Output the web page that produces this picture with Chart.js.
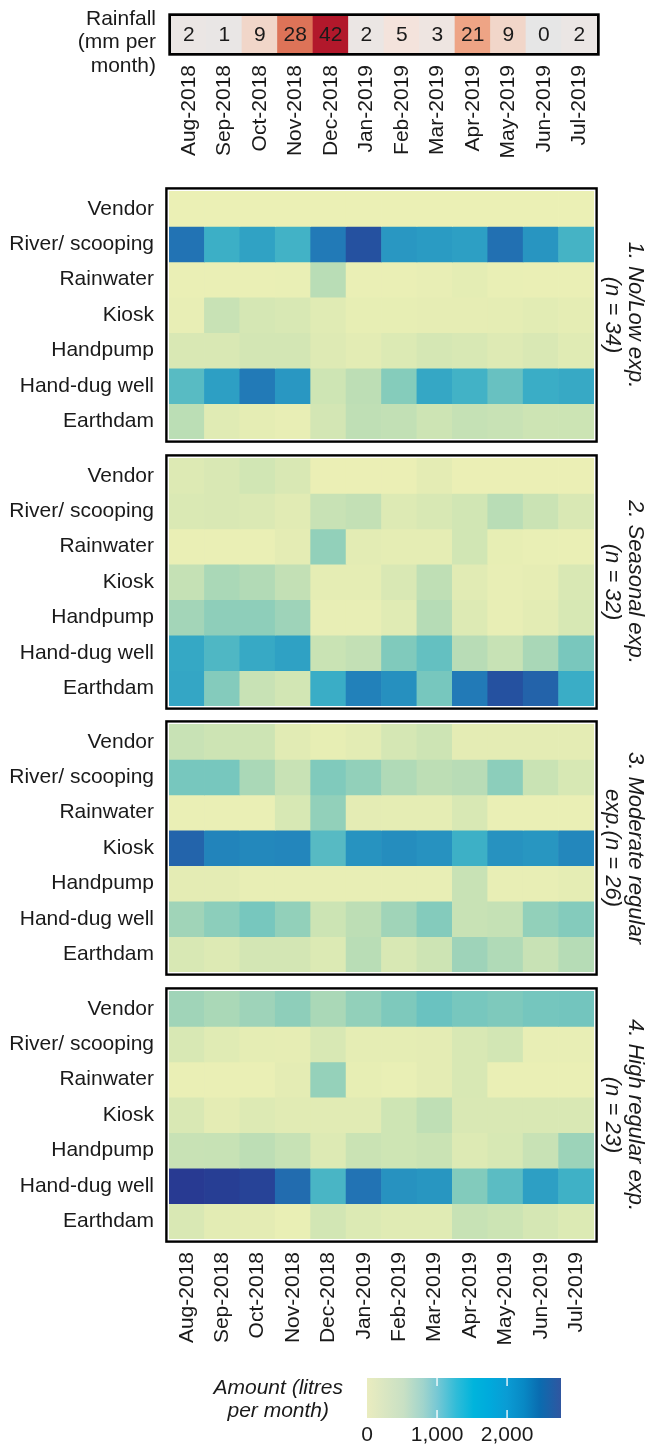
<!DOCTYPE html>
<html>
<head>
<meta charset="utf-8">
<script src="https://cdn.jsdelivr.net/npm/chart.js@4.4.1/dist/chart.umd.min.js"></script>
<style>
  body { margin: 0; background: #fff; }
  #page { position: relative; width: 651px; height: 1450px; }
  .box { position: absolute; left: 0; width: 651px; }
</style>
</head>
<body>
<div id="page">
  <div class="box" style="top:0;height:170px"><canvas id="rain"></canvas></div>
  <div class="box" style="top:185px;height:260px"><canvas id="p1"></canvas></div>
  <div class="box" style="top:452px;height:260px"><canvas id="p2"></canvas></div>
  <div class="box" style="top:718px;height:260px"><canvas id="p3"></canvas></div>
  <div class="box" style="top:985px;height:364px"><canvas id="p4"></canvas></div>
  <div class="box" style="top:1360px;height:90px"><canvas id="legend"></canvas></div>
</div>
<script>
const months = ["Aug-2018", "Sep-2018", "Oct-2018", "Nov-2018", "Dec-2018", "Jan-2019",
  "Feb-2019", "Mar-2019", "Apr-2019", "May-2019", "Jun-2019", "Jul-2019"];
const sources = ["Vendor", "River/ scooping", "Rainwater", "Kiosk", "Handpump", "Hand-dug well", "Earthdam"];

// rainfall, mm per month
const rainfall = [2, 1, 9, 28, 42, 2, 5, 3, 21, 9, 0, 2];

// litres per month, one row per source (same order as sources)
const noLowExp = [
  [10, 10, 10, 10, 10, 10, 10, 10, 10, 10, 10, 10],
  [2050, 1220, 1400, 1170, 1950, 2450, 1550, 1500, 1450, 2100, 1580, 1150],
  [30, 30, 30, 50, 480, 40, 40, 60, 130, 50, 40, 40],
  [60, 380, 270, 250, 180, 80, 90, 100, 100, 110, 160, 120],
  [240, 240, 290, 290, 190, 150, 210, 270, 250, 190, 240, 180],
  [1020, 1450, 1950, 1550, 330, 460, 770, 1330, 1170, 930, 1250, 1300],
  [470, 180, 110, 70, 290, 450, 430, 340, 400, 380, 340, 350]
];
const seasonalExp = [
  [200, 240, 310, 240, 20, 20, 20, 140, 20, 20, 20, 20],
  [230, 240, 220, 170, 380, 420, 200, 250, 310, 480, 360, 240],
  [30, 30, 30, 140, 700, 150, 110, 120, 310, 80, 50, 30],
  [400, 560, 520, 420, 120, 120, 240, 450, 170, 60, 100, 240],
  [600, 720, 720, 630, 60, 60, 180, 500, 200, 60, 150, 260],
  [1320, 1080, 1300, 1420, 370, 420, 800, 950, 490, 390, 570, 840],
  [1340, 780, 380, 300, 1250, 1850, 1650, 850, 1950, 2450, 2250, 1250]
];
const moderateExp = [
  [380, 340, 340, 170, 80, 150, 270, 340, 140, 140, 140, 140],
  [850, 850, 560, 380, 800, 700, 530, 460, 490, 730, 370, 260],
  [30, 30, 30, 260, 700, 140, 120, 120, 250, 30, 30, 30],
  [2230, 1800, 1750, 1780, 1030, 1600, 1680, 1620, 1200, 1620, 1560, 1760],
  [140, 140, 60, 60, 60, 60, 60, 60, 380, 60, 70, 110],
  [620, 730, 850, 700, 350, 460, 620, 780, 380, 400, 700, 780],
  [250, 200, 290, 290, 210, 480, 250, 340, 630, 530, 380, 500]
];
const highExp = [
  [620, 560, 630, 720, 560, 700, 810, 920, 850, 810, 860, 870],
  [250, 180, 120, 100, 250, 120, 120, 140, 250, 300, 60, 60],
  [30, 30, 30, 140, 680, 80, 50, 140, 250, 40, 40, 40],
  [240, 140, 200, 170, 170, 170, 330, 450, 240, 240, 240, 240],
  [380, 390, 460, 390, 200, 360, 330, 360, 200, 260, 380, 640],
  [2770, 2720, 2650, 2150, 1120, 2050, 1620, 1560, 790, 1000, 1450, 1190],
  [240, 150, 140, 50, 300, 210, 180, 180, 390, 350, 270, 210]
];

const panelTitles = [
  ["1. No/Low exp.", "(n = 34)"],
  ["2. Seasonal exp.", "(n = 32)"],
  ["3. Moderate regular", "exp.(n = 26)"],
  ["4. High regular exp.", "(n = 23)"]
];
const legendTicks = [0, 1000, 2000];
const legendMax = 2770;

const amountStops = [[0, "#ecf0b5"], [150, "#e3ecb4"], [300, "#d2e6b4"], [450, "#bfdfb5"],
  [600, "#a3d5b8"], [800, "#80cabc"], [1000, "#5bbcc3"], [1200, "#3db0c6"], [1500, "#2a9bc3"],
  [1800, "#2284bb"], [2100, "#2270b2"], [2400, "#2455a2"], [2770, "#283a92"]];
const rainStops = [[0, "#e6e6e6"], [2, "#ebe6e4"], [5, "#f4e3dc"], [9, "#f1d6c9"],
  [21, "#eea485"], [28, "#dd7358"], [42, "#b2182b"]];
const barStops = [[0, "#eaecbf"], [0.19, "#c8e0c4"], [0.29, "#a0d4cc"], [0.36, "#78c8d4"],
  [0.46, "#30bcd8"], [0.55, "#00b4dc"], [0.63, "#00aadc"], [0.72, "#0a9cd4"],
  [0.81, "#0888c4"], [0.89, "#0a6cb0"], [1, "#3056a0"]];

const FONT = "'Liberation Sans', Arial, Helvetica, sans-serif";
Chart.defaults.font.family = FONT;
Chart.defaults.color = "#1a1a1a";

function hexToRgb(h) {
  return [parseInt(h.slice(1, 3), 16), parseInt(h.slice(3, 5), 16), parseInt(h.slice(5, 7), 16)];
}

function scaleColor(stops, v) {
  if (v <= stops[0][0]) return stops[0][1];
  for (let i = 1; i < stops.length; i++) {
    if (v <= stops[i][0]) {
      const t = (v - stops[i - 1][0]) / (stops[i][0] - stops[i - 1][0]);
      const a = hexToRgb(stops[i - 1][1]);
      const b = hexToRgb(stops[i][1]);
      const c = a.map((x, k) => Math.round(x + (b[k] - x) * t));
      return "rgb(" + c.join(",") + ")";
    }
  }
  return stops[stops.length - 1][1];
}

// fixed axis sizes, and no extra room for labels hanging past the ends
function fixY(width) {
  return s => { s.width = width; s.paddingTop = 0; s.paddingBottom = 0; };
}
function fixX(height) {
  return s => { s.height = height; s.paddingLeft = 0; s.paddingRight = 0; };
}

const framePlugin = {
  id: "frame",
  afterDraw(chart, args, opts) {
    const { ctx, chartArea: a } = chart;
    const h = opts.width / 2 + opts.gap;
    ctx.save();
    ctx.strokeStyle = "#000";
    ctx.lineWidth = opts.width;
    ctx.strokeRect(a.left - h, a.top - h, a.right - a.left + 2 * h, a.bottom - a.top + 2 * h);
    ctx.restore();
  }
};

const cellTextPlugin = {
  id: "cellText",
  afterDatasetsDraw(chart) {
    const { ctx } = chart;
    const meta = chart.getDatasetMeta(0);
    ctx.save();
    ctx.font = "21px " + FONT;
    ctx.fillStyle = "#1a1a1a";
    ctx.textAlign = "center";
    ctx.textBaseline = "middle";
    meta.data.forEach((bar, i) => {
      ctx.fillText(String(rainfall[i]), bar.x, (bar.y + bar.base) / 2 + 1);
    });
    ctx.restore();
  }
};

const monthAxis = (show, pad, height) => ({
  type: "category",
  display: show,
  grid: { display: false, drawTicks: false },
  border: { display: false },
  ticks: { minRotation: 90, maxRotation: 90, autoSkip: false, padding: pad, font: { size: 21 } },
  afterFit: fixX(show ? height : 0)
});

// rainfall strip
new Chart(document.getElementById("rain"), {
  type: "bar",
  data: {
    labels: months,
    datasets: [{
      data: rainfall.map(() => [0, 1]),
      backgroundColor: rainfall.map(v => scaleColor(rainStops, v)),
      barPercentage: 1,
      categoryPercentage: 1,
      borderWidth: 0
    }]
  },
  options: {
    responsive: true,
    maintainAspectRatio: false,
    animation: false,
    layout: { padding: { top: 16, right: 54, left: 0, bottom: 0 } },
    plugins: { legend: { display: false }, tooltip: { enabled: false }, frame: { width: 2.7, gap: 0 } },
    scales: {
      x: monthAxis(true, 12, 117),
      y: {
        min: 0, max: 1,
        grid: { display: false, drawTicks: false },
        border: { display: false },
        afterBuildTicks: a => { a.ticks = [{ value: 0.5 }]; },
        ticks: {
          callback: () => ["Rainfall", "(mm per", "month)"],
          labelOffset: 8,
          padding: 15,
          font: { size: 21, lineHeight: 1.12 }
        },
        afterFit: fixY(171)
      }
    }
  },
  plugins: [framePlugin, cellTextPlugin]
});

function heatPanel(id, rows, title, showMonths) {
  const datasets = rows.map((vals, r) => ({
    data: vals.map(() => [r, r + 1]),
    backgroundColor: vals.map(v => scaleColor(amountStops, v)),
    grouped: false,
    barPercentage: 1,
    categoryPercentage: 1,
    borderWidth: 0
  }));
  new Chart(document.getElementById(id), {
    type: "bar",
    data: { labels: months, datasets },
    options: {
      responsive: true,
      maintainAspectRatio: false,
      animation: false,
      layout: { padding: { top: 6, bottom: showMonths ? 0 : 6, left: 0, right: 0 } },
      plugins: { legend: { display: false }, tooltip: { enabled: false }, frame: { width: 2.4, gap: 1.4 } },
      scales: {
        x: monthAxis(showMonths, 13, 110),
        y: {
          min: 0, max: sources.length,
          reverse: true,
          grid: { display: false, drawTicks: false },
          border: { display: false },
          afterBuildTicks: a => { a.ticks = sources.map((s, i) => ({ value: i + 0.5 })); },
          ticks: {
            autoSkip: false,
            callback: v => sources[Math.floor(v)],
            padding: 15,
            font: { size: 21 }
          },
          afterFit: fixY(169)
        },
        y2: {
          position: "right",
          display: true,
          grid: { display: false, drawTicks: false },
          border: { display: false },
          ticks: { display: false },
          title: {
            display: true,
            text: title,
            font: { size: 22, style: "italic", lineHeight: 1.05 },
            padding: { top: 4, bottom: 0 }
          },
          afterFit: fixY(57)
        }
      }
    },
    plugins: [framePlugin]
  });
}

heatPanel("p1", noLowExp, panelTitles[0], false);
heatPanel("p2", seasonalExp, panelTitles[1], false);
heatPanel("p3", moderateExp, panelTitles[2], false);
heatPanel("p4", highExp, panelTitles[3], true);

// colour legend
const tickMarks = {
  id: "tickMarks",
  afterDatasetsDraw(chart) {
    const { ctx, chartArea: a } = chart;
    const xs = chart.scales.x;
    ctx.save();
    ctx.strokeStyle = "#fff";
    ctx.lineWidth = 1.3;
    legendTicks.slice(1).forEach(v => {
      const x = xs.getPixelForValue(v);
      ctx.beginPath();
      ctx.moveTo(x, a.top); ctx.lineTo(x, a.top + 8);
      ctx.moveTo(x, a.bottom - 8); ctx.lineTo(x, a.bottom);
      ctx.stroke();
    });
    ctx.restore();
  }
};

new Chart(document.getElementById("legend"), {
  type: "bar",
  data: {
    labels: [["Amount (litres", "per month)"]],
    datasets: [{
      data: [[0, legendMax]],
      backgroundColor: c => {
        const { ctx, chartArea } = c.chart;
        if (!chartArea) return barStops[0][1];
        const g = ctx.createLinearGradient(chartArea.left, 0, chartArea.right, 0);
        barStops.forEach(([p, col]) => g.addColorStop(p, col));
        return g;
      },
      barPercentage: 1,
      categoryPercentage: 1,
      borderWidth: 0
    }]
  },
  options: {
    indexAxis: "y",
    responsive: true,
    maintainAspectRatio: false,
    animation: false,
    layout: { padding: { top: 18, right: 90, left: 0, bottom: 0 } },
    plugins: { legend: { display: false }, tooltip: { enabled: false } },
    scales: {
      x: {
        min: 0, max: legendMax,
        grid: { display: false, drawTicks: false },
        border: { display: false },
        afterBuildTicks: a => { a.ticks = legendTicks.map(v => ({ value: v })); },
        ticks: { callback: v => v.toLocaleString("en-US"), padding: 5, font: { size: 21 }, maxRotation: 0 },
        afterFit: fixX(32)
      },
      y: {
        grid: { display: false, drawTicks: false },
        border: { display: false },
        ticks: { crossAlign: "center", padding: 24, labelOffset: 2, font: { size: 21, style: "italic", lineHeight: 1.1 } },
        afterFit: fixY(367)
      }
    }
  },
  plugins: [tickMarks]
});
</script>
</body>
</html>
